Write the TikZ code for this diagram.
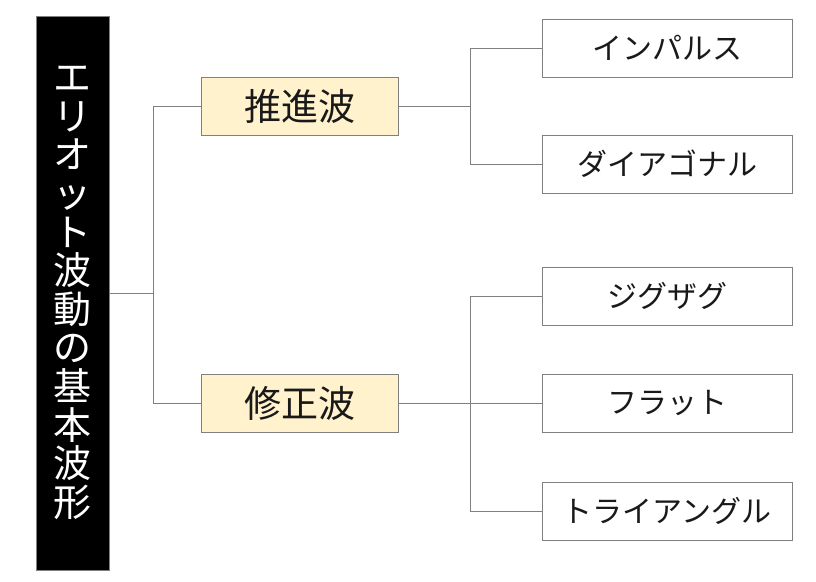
\documentclass[tikz,border=0pt]{standalone}
\usepackage{fontspec}
\newfontfamily\jp{Noto Sans CJK JP}
\definecolor{linha}{HTML}{808080}
\definecolor{creme}{HTML}{FFF2CC}
\begin{document}
\begin{tikzpicture}[x=1pt,y=-1pt,
    link/.style={draw=linha,line width=1pt},
    rootbox/.style={fill=black,draw=linha,line width=0.8pt,minimum width=73pt,minimum height=554pt,inner sep=0pt,
      text=white,align=center,font=\jp\fontsize{38}{38.6}\selectfont},
    wavebox/.style={fill=creme,draw=linha,line width=1pt,minimum width=197pt,minimum height=58pt,inner sep=0pt,
      font=\jp\fontsize{37}{40}\selectfont,text=black!90},
    leafbox/.style={fill=white,draw=linha,line width=1pt,minimum width=250pt,minimum height=58pt,inner sep=0pt,
      font=\jp\fontsize{30}{34}\selectfont,text=black!90}]
      \useasboundingbox (0,0) rectangle (816,581);
      % raiz vertical
      \node[rootbox] (root) at (72.5,293) {エ\\リ\\オ\\ッ\\ト\\波\\動\\の\\基\\本\\波\\形};
      \node[wavebox] (push) at (299.5,106) {推進波};
      \node[wavebox] (corr) at (299.5,403.5) {修正波};
      \node[leafbox] (impulse) at (667,48) {インパルス};
      \node[leafbox] (diag) at (667,164) {ダイアゴナル};
      \node[leafbox] (zigzag) at (667,296) {ジグザグ};
      \node[leafbox] (flat) at (667,403.5) {フラット};
      \node[leafbox] (tri) at (667,511) {トライアングル};
      \coordinate (j0) at (153,293);
      \coordinate (j1) at (470,106);
      \coordinate (j2) at (470,403.5);
      \draw[link] (root.east) -- (j0) (j0) |- (push.west) (j0) |- (corr.west);
      \draw[link] (push.east) -- (j1) (j1) |- (impulse.west) (j1) |- (diag.west);
      \draw[link] (corr.east) -- (flat.west) (j2) |- (zigzag.west) (j2) |- (tri.west);
\end{tikzpicture}
\end{document}
